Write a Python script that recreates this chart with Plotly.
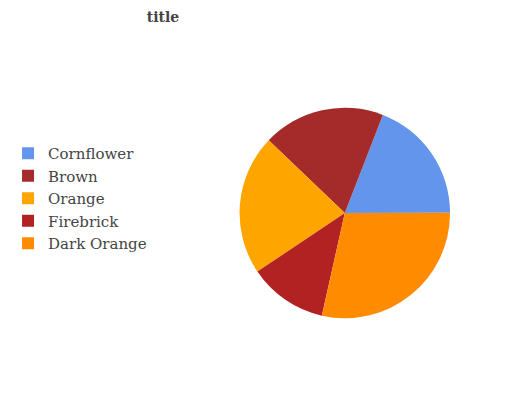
import plotly.graph_objects as go

labels = ["Cornflower", "Brown", "Orange", "Firebrick", "Dark Orange"]
values = [17.2, 16.9, 19.4, 10.9, 25.7]
colors = ["#6495ED", "#A52A2A", "#FFA500", "#B22222", "#FF8C00"]

W, H = 532, 400
off = 8  # page body margin
cx, cy, r = 336 - off, 213 - off, 110

fig = go.Figure(go.Pie(
    labels=labels, values=values, sort=False,
    direction="counterclockwise", rotation=21.2,
    marker=dict(colors=colors, line=dict(width=0)),
    textinfo="none", hoverinfo="label+value",
    domain=dict(x=[(cx - r) / W, (cx + r) / W], y=[(H - cy - r) / H, (H - cy + r) / H]),
))
fig.update_layout(
    width=W, height=H,
    margin=dict(l=0, r=0, t=0, b=0),
    paper_bgcolor="white",
    font=dict(family="DejaVu Serif", color="#444444"),
    title=dict(text="<b>title</b>", x=(163 - off) / W, xanchor="center", y=1 - (17 - off) / H, yanchor="middle",
               font=dict(size=14, family="DejaVu Serif", color="#444444")),
    legend=dict(x=-24 / W, xanchor="left", y=1 - 129 / H, yanchor="top",
                font=dict(size=15, family="DejaVu Serif", color="#444444"),
                itemwidth=30, tracegroupgap=0),
)
fig.write_html("out.html")
